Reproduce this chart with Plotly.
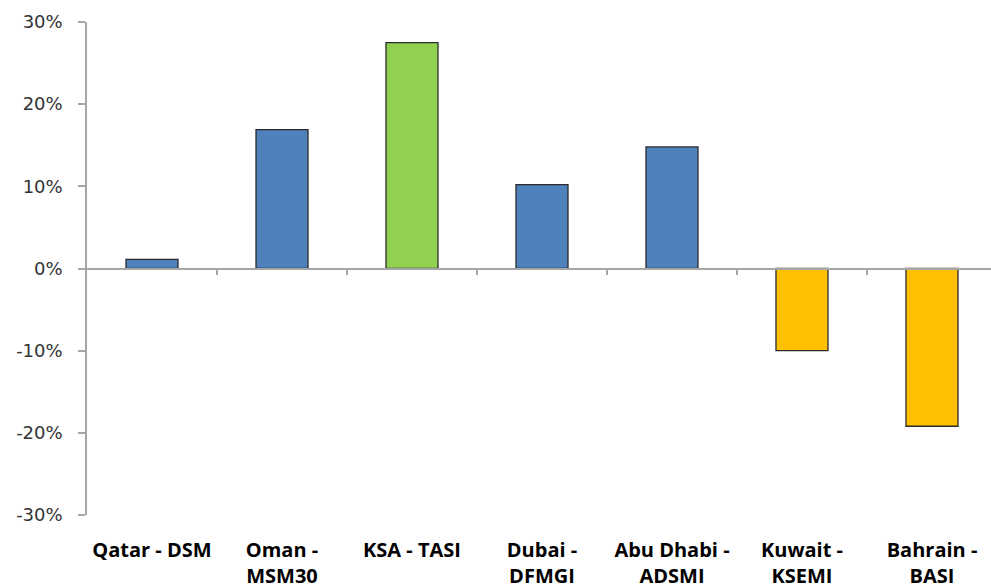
import plotly.graph_objects as go

categories = ["Qatar - DSM", "Oman -<br>MSM30", "KSA - TASI", "Dubai -<br>DFMGI",
              "Abu Dhabi -<br>ADSMI", "Kuwait -<br>KSEMI", "Bahrain -<br>BASI"]
values = [1.1, 16.9, 27.5, 10.2, 14.8, -10.0, -19.2]
colors = ["#4F81BD", "#4F81BD", "#92D050", "#4F81BD", "#4F81BD", "#FFC000", "#FFC000"]
y_ticks = [-30, -20, -10, 0, 10, 20, 30]
y_labels = [f"{v}%" for v in y_ticks]

idx = list(range(len(categories)))
xr = [-0.5, 6.454]

fig = go.Figure()
fig.add_trace(go.Bar(x=idx, y=values, marker=dict(color=colors, line=dict(color="#2b2b2b", width=1.3)),
                     width=0.4, showlegend=False, hoverinfo="skip"))
fig.add_trace(go.Scatter(x=[0], y=[0], xaxis="x2", mode="markers", marker=dict(opacity=0),
                         showlegend=False, hoverinfo="skip"))

fig.update_layout(
    width=991, height=585,
    margin=dict(l=87, r=0, t=22, b=70, autoexpand=False),
    paper_bgcolor="white", plot_bgcolor="white",
    font=dict(family="Open Sans", color="#333333"),
    xaxis=dict(range=xr, tickmode="array", tickvals=idx, ticktext=categories,
               showline=False, ticks="", showgrid=False, zeroline=False, automargin=False,
               tickfont=dict(size=20, color="#000000", family="Open Sans", weight="bold"),
               ticklabelstandoff=21),
    xaxis2=dict(range=xr, overlaying="x", anchor="free", position=0.5, automargin=False,
                tickmode="array", tickvals=[i + 0.5 for i in idx], showticklabels=False,
                ticks="outside", ticklen=6, tickcolor="#A6A6A6", tickwidth=1.5,
                showline=True, linecolor="#A6A6A6", linewidth=1.5, showgrid=False, zeroline=False),
    yaxis=dict(range=[-30, 30], tickmode="array", tickvals=y_ticks, ticktext=y_labels,
               showline=True, linecolor="#A6A6A6", linewidth=1.5, ticks="outside", ticklen=7,
               tickcolor="#A6A6A6", tickwidth=1.5, showgrid=False, zeroline=False, automargin=False,
               tickfont=dict(size=18, color="#333333", family="DejaVu Sans"), ticklabelstandoff=12),
)

fig.write_html("out.html")
